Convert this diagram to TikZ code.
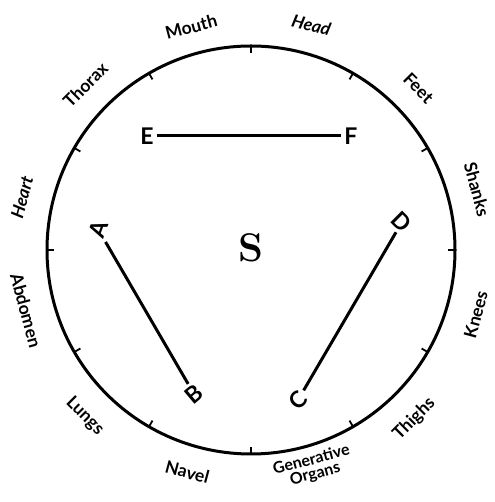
\documentclass[tikz,border=0pt]{standalone}
\usepackage{fontspec}
\setsansfont{Lato}
\usetikzlibrary{calc}
\begin{document}
\begin{tikzpicture}[x=1pt,y=1pt,
  organ/.style={font=\sffamily\bfseries\fontsize{17.5}{17}\selectfont, inner sep=0pt, align=center},
  pt/.style={font=\sffamily\bfseries\fontsize{23}{24}\selectfont, inner sep=3pt},
  chord/.style={line width=3pt},
  rim/.style={line width=3pt},
  tick/.style={line width=1.8pt}]
\useasboundingbox (0,0) rectangle (494,502);
\coordinate (O) at (251,252);
\draw[rim] (O) circle (204);
\foreach \a in {0,30,...,330} \draw[tick] ($(O)+(\a:204)$) -- ($(O)+(\a:197)$);
% labels
\node[organ, rotate=-15] (head) at ($(O)+(75:233)$) {\itshape Head};
\node[organ, rotate=15] (mouth) at ($(O)+(105:231)$) {Mouth};
\node[organ, rotate=45] (thorax) at ($(O)+(135:234)$) {Thorax};
\node[organ, rotate=75] (heart) at ($(O)+(167:235)$) {\itshape Heart};
\node[organ, rotate=-75] (abdomen) at ($(O)+(195:233)$) {Abdomen};
\node[organ, rotate=-45] (lungs) at ($(O)+(225:235)$) {Lungs};
\node[organ, rotate=-15] (navel) at ($(O)+(254:231)$) {Navel};
\node[organ, rotate=15, font=\sffamily\bfseries\fontsize{16}{14.5}\selectfont] (gen) at ($(O)+(286:226)$) {Generative\\Organs};
\node[organ, rotate=45] (thighs) at ($(O)+(314:235)$) {Thighs};
\node[organ, rotate=75] (knees) at ($(O)+(344:234)$) {Knees};
\node[organ, rotate=-75] (shanks) at ($(O)+(15:234)$) {Shanks};
\node[organ, rotate=-45] (feet) at ($(O)+(44:233)$) {Feet};
% points
\node[font=\bfseries\fontsize{40}{42}\selectfont] (S) at (251,254) {S};
\node[pt] (E) at (147,366) {E};
\node[pt] (F) at (351,366) {F};
\node[pt, rotate=70] (A) at (98,273) {A};
\node[pt, rotate=40] (B) at (194,108) {B};
\node[pt, rotate=45] (C) at (298,102) {C};
\node[pt, rotate=-45] (D) at (402,280) {D};
\draw[chord] (E) -- (F);
\draw[chord] (A) -- (B);
\draw[chord] (C) -- (D);
\end{tikzpicture}
\end{document}
